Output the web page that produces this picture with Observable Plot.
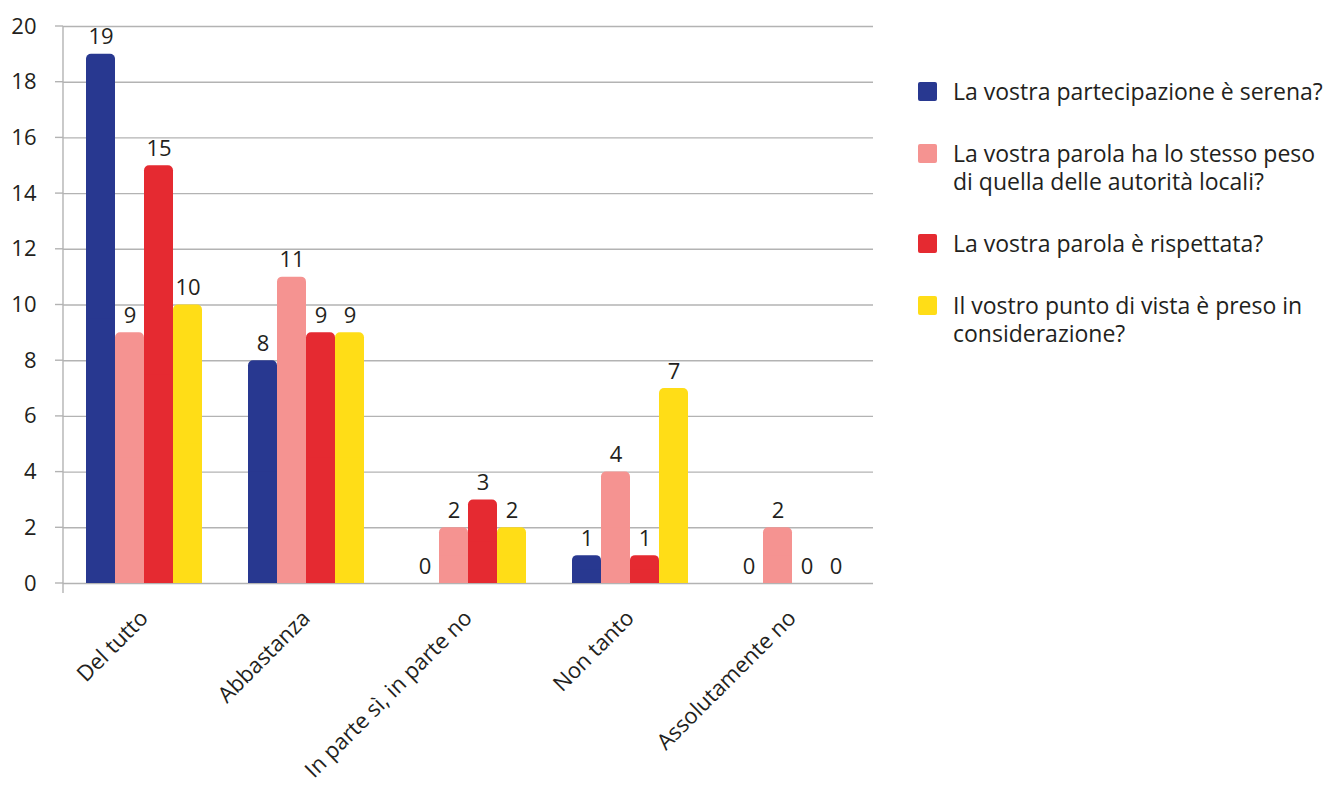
<!DOCTYPE html>
<html>
<head>
<meta charset="utf-8">
<script src="https://cdn.jsdelivr.net/npm/d3@7"></script>
<script src="https://cdn.jsdelivr.net/npm/@observablehq/plot@0.6"></script>
<style>
  body { margin: 0; background: #fff; font-family: "Open Sans", Lato, sans-serif; color: #231f20; }
  #wrap { position: relative; width: 1334px; height: 786px; }
  #chart { position: absolute; left: 0; top: 0; }
  #legend { position: absolute; left: 918px; top: 77px; display: flex; flex-direction: column; gap: 34px; }
  .item { display: flex; align-items: flex-start; }
  .sw { width: 19px; height: 19px; border-radius: 2px; margin-top: 5px; flex: none; }
  .lab { margin-left: 16px; font-size: 23px; line-height: 28px; white-space: pre; }
</style>
</head>
<body>
<div id="wrap">
  <div id="chart"></div>
  <div id="legend"></div>
</div>
<script>
const categories = ["Del tutto", "Abbastanza", "In parte sì, in parte no", "Non tanto", "Assolutamente no"];
const seriesNames = [
  "La vostra partecipazione è serena?",
  "La vostra parola ha lo stesso peso\ndi quella delle autorità locali?",
  "La vostra parola è rispettata?",
  "Il vostro punto di vista è preso in\nconsiderazione?"
];
const serena = [19, 8, 0, 1, 0];
const stessoPeso = [9, 11, 2, 4, 2];
const rispettata = [15, 9, 3, 1, 0];
const considerazione = [10, 9, 2, 7, 0];
const colors = ["#283890", "#f59391", "#e52a31", "#ffdd17"];
const yTicks = [0, 2, 4, 6, 8, 10, 12, 14, 16, 18, 20];

const seriesValues = [serena, stessoPeso, rispettata, considerazione];
const rows = categories.flatMap((c, i) =>
  seriesNames.map((s, j) => ({ cat: c, series: s, value: seriesValues[j][i] }))
);

const mL = 63, mR = 27, mT = 26, mB = 203;
const plot = Plot.plot({
  width: 900,
  height: 786,
  marginLeft: mL,
  marginRight: mR,
  marginTop: mT,
  marginBottom: mB,
  style: { fontFamily: "'Open Sans', Lato, sans-serif", fontSize: "22px", color: "#231f20", background: "transparent" },
  facet: { data: rows, x: "cat" },
  fx: { domain: categories, padding: 0, label: null, axis: "bottom", tickRotate: -45, tickSize: 0, tickPadding: 31 },
  x: { domain: seriesNames, axis: null, paddingInner: 0, paddingOuter: 0.78 },
  y: { domain: [0, 20], ticks: yTicks, tickSize: 0, tickPadding: 27, label: null },
  color: { domain: seriesNames, range: colors },
  marks: [
    Plot.ruleY(yTicks, { stroke: "#b3b3b3", strokeWidth: 1.4 }),
    Plot.barY(rows, { x: "series", y: "value", fill: "series", rx: 5, ariaLabel: "bar-top" }),
    Plot.barY(rows, { x: "series", y1: 0, y2: d => d.value / 2, fill: "series" }),
    Plot.text(rows, { x: "series", y: "value", text: d => String(d.value), dy: -17, fontSize: 22, fill: "#231f20" })
  ]
});
document.getElementById("chart").appendChild(plot);

const svg = d3.select(plot);
// rounded tops
svg.selectAll('g[aria-label="bar-top"] rect').attr("rx", 5).attr("ry", 5);

// axis line and tick marks, positioned via the y scale
const ys = plot.scale("y");
const g = svg.append("g").attr("stroke", "#b3b3b3").attr("stroke-width", 1.4);
yTicks.forEach(v => {
  const yy = ys.apply(v);
  g.append("line").attr("x1", mL - 8).attr("x2", mL).attr("y1", yy).attr("y2", yy);
});
g.append("line").attr("x1", mL).attr("x2", mL).attr("y1", ys.apply(20)).attr("y2", ys.apply(0) + 10);

// legend
const legend = d3.select("#legend");
seriesNames.forEach((s, j) => {
  const it = legend.append("div").attr("class", "item");
  it.append("div").attr("class", "sw").style("background", colors[j]);
  it.append("div").attr("class", "lab").text(s);
});
</script>
</body>
</html>
